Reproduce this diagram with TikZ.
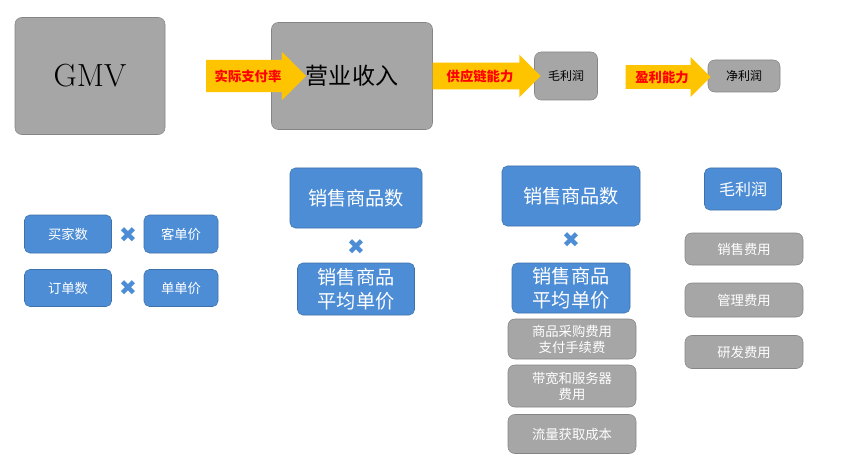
\documentclass[tikz,border=0pt]{standalone}
\usepackage{fontspec}
\newfontfamily\cjk{Noto Sans CJK SC}
\newfontfamily\symfont{DejaVu Sans}
\usetikzlibrary{shapes.arrows}
\definecolor{boxgray}{RGB}{166,166,166}
\definecolor{boxblue}{RGB}{77,141,214}
\definecolor{arrowyel}{RGB}{255,196,0}
\tikzset{
	graybox/.style={rectangle, rounded corners=5pt, fill=boxgray, draw=boxgray!80!black, text=black, align=center, inner sep=0pt},
	bluebox/.style={rectangle, rounded corners=4pt, fill=boxblue, draw=boxblue!80!black, text=white, align=center, inner sep=0pt, font=\cjk},
	costbox/.style={graybox, text=white, font=\cjk},
	flowarrow/.style={single arrow, fill=arrowyel, draw=none, single arrow head extend=6pt, inner xsep=1pt, font=\cjk\bfseries, text=red},
	times/.style={text=boxblue, font=\symfont\fontsize{16}{16}\selectfont}
}
\begin{document}
\begin{tikzpicture}[x=0.75pt, y=-0.75pt]
	\useasboundingbox (0,0) rectangle (863,456);
	% Top chain
	\node[graybox, minimum width=150*0.75pt, minimum height=117*0.75pt, font=\fontsize{24}{24}\selectfont] (gmv) at (90,76){GMV};
	\node[graybox, minimum width=161*0.75pt, minimum height=107*0.75pt, font=\cjk\LARGE] (rev) at (352,76){营业收入};
	\node[graybox, minimum width=63*0.75pt, minimum height=48*0.75pt, font=\cjk\small] (gross) at (566,76){毛利润};
	\node[graybox, minimum width=72*0.75pt, minimum height=32*0.75pt, font=\cjk\small] (net) at (744,76){净利润};
	\node[flowarrow, inner ysep=7pt, minimum height=100*0.75pt] (pay) at (248,76){实际支付率};
	\node[flowarrow, inner ysep=5pt, minimum height=108*0.75pt] (supply) at (480,76){供应链能力};
	\node[flowarrow, inner ysep=4pt, minimum height=85*0.75pt] (profit) at (662,77){盈利能力};

	% GMV factors
	\node[bluebox, minimum width=87*0.75pt, minimum height=38*0.75pt] (buyers) at (68,234){买家数};
	\node[times] (x1) at (128,235){✖};
	\node[bluebox, minimum width=74*0.75pt, minimum height=38*0.75pt] (custprice) at (181,234){客单价};
	\node[bluebox, minimum width=87*0.75pt, minimum height=37*0.75pt] (orders) at (68,288){订单数};
	\node[times] (x2) at (128,288){✖};
	\node[bluebox, minimum width=74*0.75pt, minimum height=37*0.75pt] (orderprice) at (181,288){单单价};

	% Revenue factors
	\node[bluebox, minimum width=132*0.75pt, minimum height=60*0.75pt, font=\cjk\Large] (qty1) at (356,198){销售商品数};
	\node[times] (x3) at (356,247){✖};
	\node[bluebox, minimum width=117*0.75pt, minimum height=52*0.75pt, font=\cjk\Large] (avg1) at (356,289){销售商品\\平均单价};

	% Gross profit factors
	\node[bluebox, minimum width=138*0.75pt, minimum height=60*0.75pt, font=\cjk\Large] (qty2) at (571,196){销售商品数};
	\node[times] (x4) at (571,240){✖};
	\node[bluebox, minimum width=118*0.75pt, minimum height=50*0.75pt, font=\cjk\Large] (avg2) at (571,288){销售商品\\平均单价};
	\node[costbox, minimum width=128*0.75pt, minimum height=40*0.75pt] (purchase) at (572,339){商品采购费用\\支付手续费};
	\node[costbox, minimum width=128*0.75pt, minimum height=42*0.75pt] (server) at (572,386){带宽和服务器\\费用};
	\node[costbox, minimum width=128*0.75pt, minimum height=39*0.75pt] (traffic) at (572,434){流量获取成本};

	% Net profit factors
	\node[bluebox, minimum width=77*0.75pt, minimum height=42*0.75pt, font=\cjk\large] (gross2) at (743,189){毛利润};
	\node[costbox, minimum width=118*0.75pt, minimum height=32*0.75pt] (sales) at (744,249){销售费用};
	\node[costbox, minimum width=118*0.75pt, minimum height=34*0.75pt] (admin) at (744,300){管理费用};
	\node[costbox, minimum width=118*0.75pt, minimum height=33*0.75pt] (rnd) at (744,352){研发费用};
\end{tikzpicture}
\end{document}
